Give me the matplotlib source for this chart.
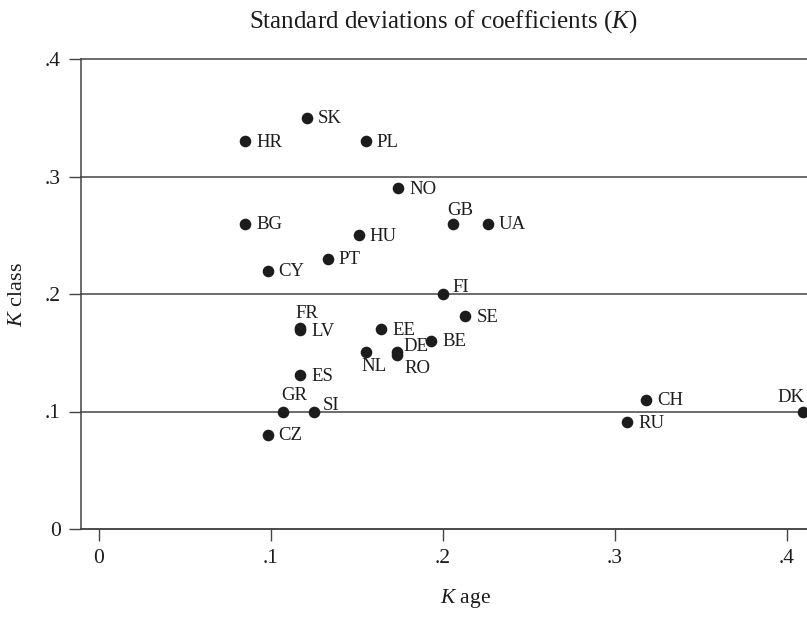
# Scatter of coefficient standard deviations by country: K age vs K class.
import matplotlib; matplotlib.use("Agg"); import matplotlib.pyplot as plt

countries=["SK","HR","PL","NO","BG","GB","UA","HU","PT","CY","FI","SE","FR","LV","EE",
           "BE","NL","DE","RO","ES","GR","SI","CZ","CH","RU","DK"]
k_age  =[0.121,0.085,0.155,0.174,0.085,0.206,0.226,0.151,0.133,0.098,0.200,0.213,0.117,0.117,0.164,
         0.193,0.155,0.173,0.173,0.117,0.107,0.125,0.098,0.318,0.307,0.409]
k_class=[0.350,0.330,0.330,0.290,0.260,0.260,0.260,0.250,0.230,0.220,0.200,0.181,0.171,0.169,0.170,
         0.160,0.151,0.151,0.148,0.131,0.100,0.100,0.080,0.110,0.091,0.100]
xticks=[0,0.1,0.2,0.3,0.4]; xticklabels=["0",".1",".2",".3",".4"]
yticks=[0,0.1,0.2,0.3,0.4]; yticklabels=["0",".1",".2",".3",".4"]

# label placement (pixel offsets from marker, ha, va); default is 3 o'clock
label_pos={"FR":(7,16,"center","center"),"GB":(7,14,"center","center"),"GR":(11,17,"center","center"),
           "SI":(9,7,"left","center"),"DE":(7,6,"left","center"),"RO":(8,-12,"left","center"),
           "NL":(8,-14,"center","center"),"FI":(9,7,"left","center"),"DK":(2,15,"right","center")}

plt.rcParams["font.family"]=["Liberation Serif","DejaVu Serif"]
plt.rcParams["mathtext.fontset"]="custom"
plt.rcParams["mathtext.rm"]="Liberation Serif"
plt.rcParams["mathtext.it"]="Liberation Serif:italic"
ink="#1c1c1c"; line="#444444"

fig=plt.figure(figsize=(8.07,6.17),dpi=100)
ax=fig.add_axes([81/807,88/617,726/807,470/617])
ax.scatter(k_age,k_class,s=70,color=ink,linewidths=0,zorder=3)
for c,x,y in zip(countries,k_age,k_class):
    dx,dy,ha,va=label_pos.get(c,(11,0,"left","center"))
    ax.annotate(c,(x,y),xytext=(dx,dy-1),textcoords="offset pixels",ha=ha,va=va,fontsize=13.5,color=ink,zorder=4)

ax.set_xlim(-0.0105,0.4116); ax.set_ylim(0,0.4)
ax.set_xticks(xticks); ax.set_xticklabels(xticklabels)
ax.set_yticks(yticks); ax.set_yticklabels(yticklabels)
ax.tick_params(direction="out",length=8.5,width=1,color=line,labelsize=15.5,labelcolor=ink,pad=6)
ax.grid(axis="y",color=line,linewidth=1.1)
for g in ax.get_ygridlines(): g.set_clip_on(False)
for s in ["top","right"]: ax.spines[s].set_visible(False)
for s in ["left","bottom"]: ax.spines[s].set_color(line); ax.spines[s].set_linewidth(1.1)
ax.set_axisbelow(True)

ax.set_xlabel("$K$ age",fontsize=15.5,color=ink,va="center")
ax.xaxis.set_label_coords((466-81)/726,-(598-529)/470)
ax.set_ylabel("$K$ class",fontsize=16,color=ink,va="center")
ax.yaxis.set_label_coords(-(81-18)/726,0.5)
fig.text(443/807,1-22/617,"Standard deviations of coefficients ($K$)",ha="center",va="center",fontsize=18,color=ink)
fig.savefig("out.png",dpi=100)
